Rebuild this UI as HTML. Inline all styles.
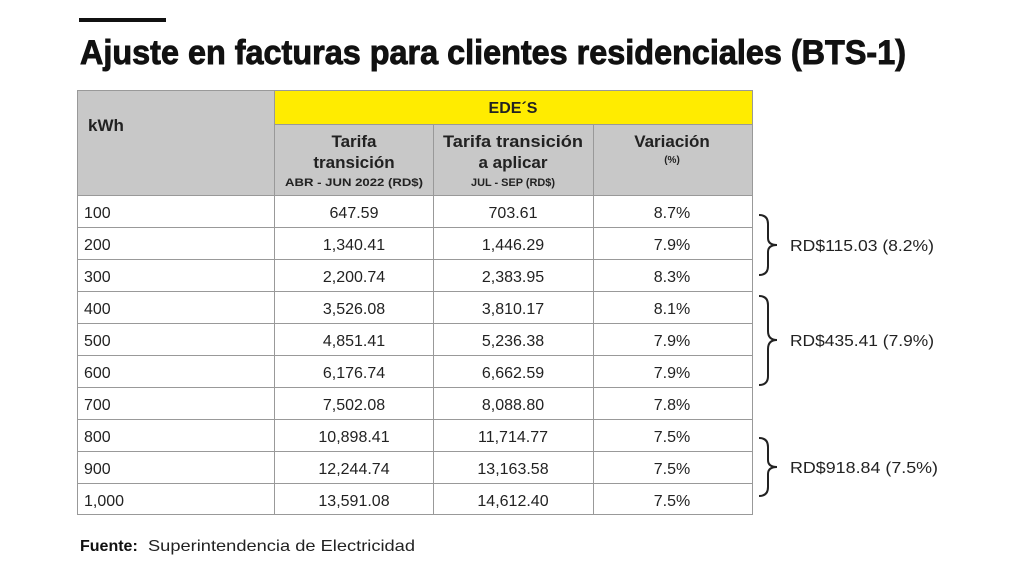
<!DOCTYPE html>
<html><head><meta charset="utf-8"><style>
html,body{margin:0;padding:0;background:#fff;}
svg{display:block;}
text{font-family:"Liberation Sans",sans-serif;fill:#222;}
</style></head><body>
<svg width="1024" height="576" viewBox="0 0 1024 576">
<rect x="79" y="18" width="87" height="4" fill="#111"/>
<text x="80" y="64" font-size="34" font-weight="bold" textLength="826" lengthAdjust="spacingAndGlyphs" style="fill:#111;stroke:#111;stroke-width:0.9">Ajuste en facturas para clientes residenciales (BTS-1)</text>
<rect x="77" y="90" width="197" height="105" fill="#c8c8c8"/>
<rect x="274" y="90" width="478" height="34" fill="#ffec00"/>
<rect x="274" y="124" width="478" height="71" fill="#c8c8c8"/>
<g stroke="#999" stroke-width="1" fill="none">
<rect x="77.5" y="90.5" width="675" height="424"/>
<line x1="274.5" y1="90" x2="274.5" y2="515"/>
<line x1="433.5" y1="124" x2="433.5" y2="515"/>
<line x1="593.5" y1="124" x2="593.5" y2="515"/>
<line x1="274" y1="124.5" x2="752" y2="124.5"/>
<line x1="77" y1="195.5" x2="752" y2="195.5"/>
<line x1="77" y1="227.5" x2="752" y2="227.5"/>
<line x1="77" y1="259.5" x2="752" y2="259.5"/>
<line x1="77" y1="291.5" x2="752" y2="291.5"/>
<line x1="77" y1="323.5" x2="752" y2="323.5"/>
<line x1="77" y1="355.5" x2="752" y2="355.5"/>
<line x1="77" y1="387.5" x2="752" y2="387.5"/>
<line x1="77" y1="419.5" x2="752" y2="419.5"/>
<line x1="77" y1="451.5" x2="752" y2="451.5"/>
<line x1="77" y1="483.5" x2="752" y2="483.5"/>
</g>
<g font-weight="bold" text-anchor="middle" style="fill:#222">
<text x="88" y="131" font-size="17" text-anchor="start" font-weight="bold">kWh</text>
<text x="513" y="113" font-size="16" font-weight="bold">EDE´S</text>
<text x="354" y="147" font-size="17" font-weight="bold">Tarifa</text>
<text x="354" y="168" font-size="17" font-weight="bold">transición</text>
<text x="354" y="186" font-size="11" font-weight="bold" textLength="138" lengthAdjust="spacingAndGlyphs">ABR - JUN 2022 (RD$)</text>
<text x="513" y="147" font-size="17" font-weight="bold" textLength="140" lengthAdjust="spacingAndGlyphs">Tarifa transición</text>
<text x="513" y="168" font-size="17" font-weight="bold">a aplicar</text>
<text x="513" y="186" font-size="11" font-weight="bold" textLength="84" lengthAdjust="spacingAndGlyphs">JUL - SEP (RD$)</text>
<text x="672" y="147" font-size="17" font-weight="bold">Variación</text>
<text x="672" y="163" font-size="10" font-weight="bold">(%)</text>
</g>
<g font-size="16">
<g text-anchor="start">
<text x="84" y="218">100</text><text x="84" y="250">200</text><text x="84" y="282">300</text>
<text x="84" y="314">400</text><text x="84" y="346">500</text><text x="84" y="378">600</text>
<text x="84" y="410">700</text><text x="84" y="442">800</text><text x="84" y="474">900</text>
<text x="84" y="506">1,000</text>
</g>
<g text-anchor="middle">
<text x="354" y="218">647.59</text><text x="513" y="218">703.61</text><text x="672" y="218">8.7%</text>
<text x="354" y="250">1,340.41</text><text x="513" y="250">1,446.29</text><text x="672" y="250">7.9%</text>
<text x="354" y="282">2,200.74</text><text x="513" y="282">2,383.95</text><text x="672" y="282">8.3%</text>
<text x="354" y="314">3,526.08</text><text x="513" y="314">3,810.17</text><text x="672" y="314">8.1%</text>
<text x="354" y="346">4,851.41</text><text x="513" y="346">5,236.38</text><text x="672" y="346">7.9%</text>
<text x="354" y="378">6,176.74</text><text x="513" y="378">6,662.59</text><text x="672" y="378">7.9%</text>
<text x="354" y="410">7,502.08</text><text x="513" y="410">8,088.80</text><text x="672" y="410">7.8%</text>
<text x="354" y="442">10,898.41</text><text x="513" y="442">11,714.77</text><text x="672" y="442">7.5%</text>
<text x="354" y="474">12,244.74</text><text x="513" y="474">13,163.58</text><text x="672" y="474">7.5%</text>
<text x="354" y="506">13,591.08</text><text x="513" y="506">14,612.40</text><text x="672" y="506">7.5%</text>
</g>
<text x="790" y="251" textLength="144" lengthAdjust="spacingAndGlyphs">RD$115.03 (8.2%)</text>
<text x="790" y="346" textLength="144" lengthAdjust="spacingAndGlyphs">RD$435.41 (7.9%)</text>
<text x="790" y="473" textLength="148" lengthAdjust="spacingAndGlyphs">RD$918.84 (7.5%)</text>
</g>
<g stroke="#222" stroke-width="2" fill="none">
<path d="M759 215 Q768 215 768 224 L768 238 Q768 245 777 245 Q768 245 768 252 L768 266 Q768 275 759 275"/>
<path d="M759 296 Q768 296 768 305 L768 331 Q768 340 777 340 Q768 340 768 349 L768 376 Q768 385 759 385"/>
<path d="M759 438 Q768 438 768 447 L768 460 Q768 467 777 467 Q768 467 768 474 L768 487 Q768 496 759 496"/>
</g>
<text x="80" y="551" font-size="16" font-weight="bold" style="fill:#111">Fuente:</text>
<text x="148" y="551" font-size="16" textLength="267" lengthAdjust="spacingAndGlyphs">Superintendencia de Electricidad</text>
</svg>
</body></html>
